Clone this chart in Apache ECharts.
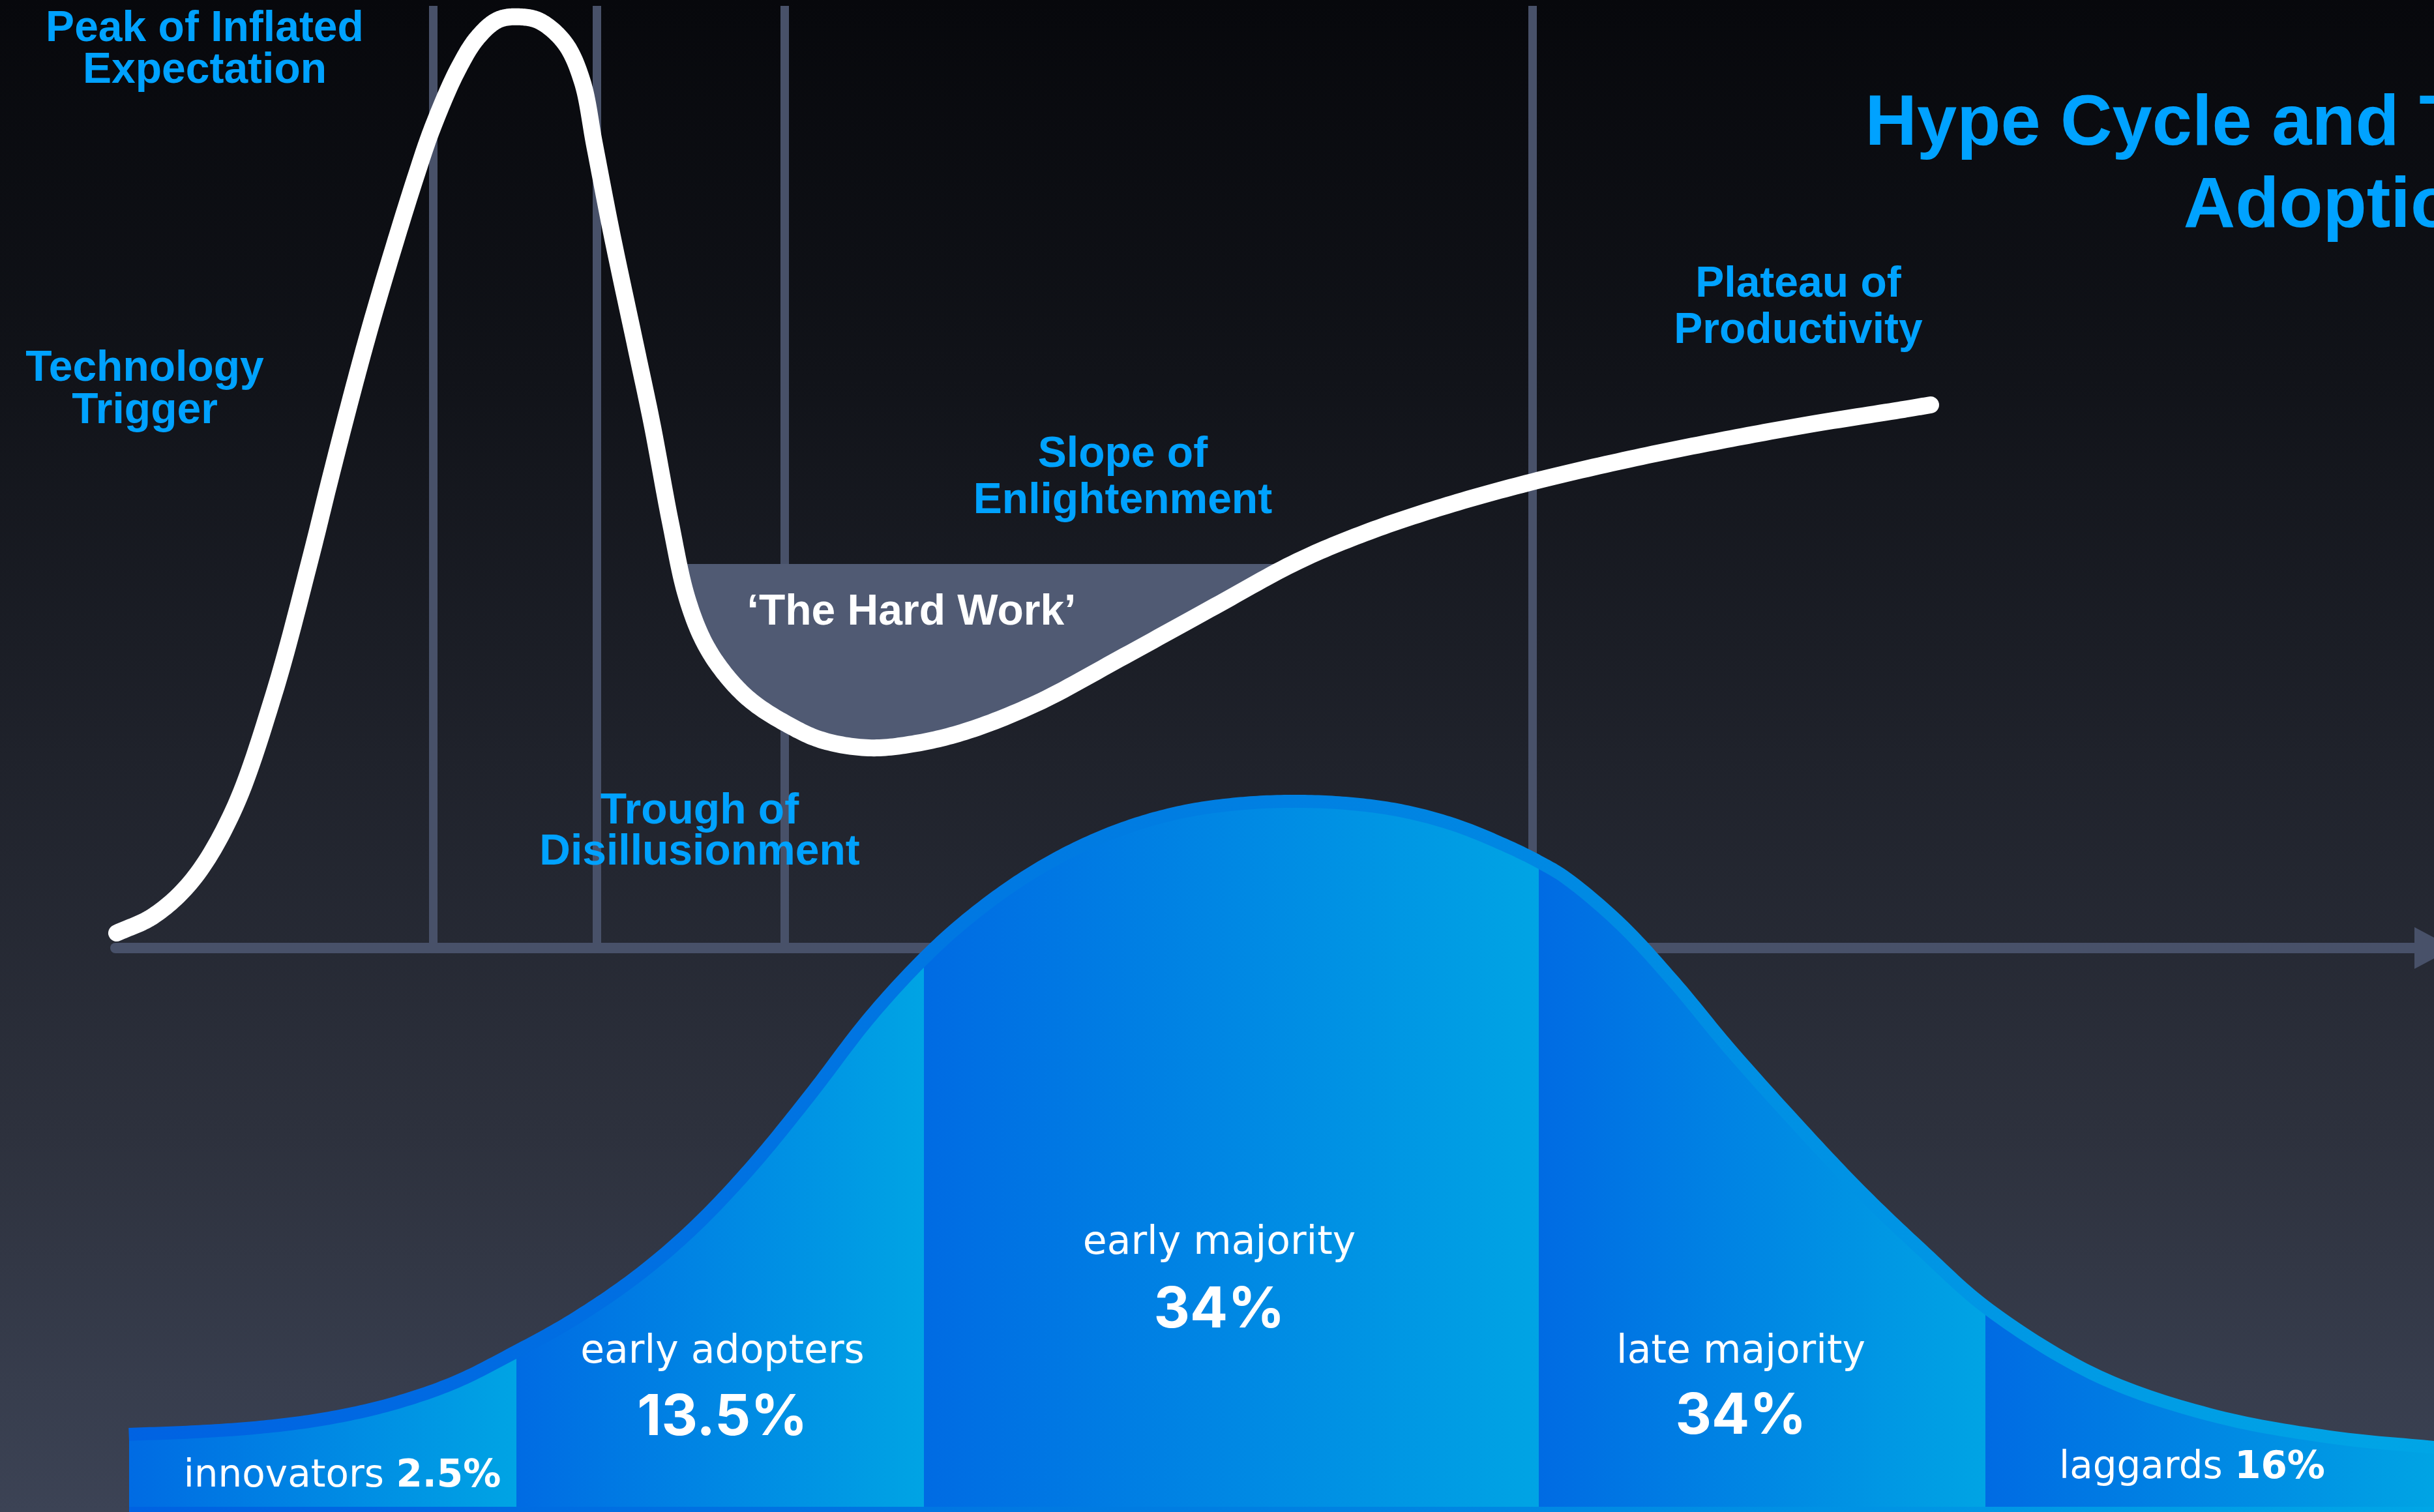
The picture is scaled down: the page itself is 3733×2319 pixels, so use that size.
<!DOCTYPE html>
<html>
<head>
    <meta charset="UTF-8">
    <title>Hype Cycle and Technology Adoption</title>
    <script src="https://cdn.jsdelivr.net/npm/echarts@6/dist/echarts.min.js"></script>
    <style>
        html, body { margin: 0; padding: 0; background: #14161c; }
        #main { width: 3733px; height: 2319px; }
    </style>
</head>
<body>
    <div id="main"></div>

    <script type="text/javascript">
        // hype curve: [time, visibility], visibility measured up from the time axis
        const hypeCurve = [
            [179, 23], [235, 49], [295, 104], [357, 209], [420, 389], [476, 597], [505, 714],
            [536, 835], [566, 946], [600, 1062], [638, 1184], [663, 1257], [702, 1347], [733, 1397],
            [765, 1424], [800, 1428], [829, 1421], [867, 1387], [893, 1329], [912, 1231], [938, 1097],
            [976, 918], [1000, 804], [1028, 654], [1053, 539], [1080, 469], [1113, 419], [1152, 379],
            [1206, 344], [1260, 319], [1332, 307], [1400, 313], [1480, 332], [1589, 375], [1725, 448],
            [1863, 524], [1990, 593], [2100, 639], [2220, 679], [2350, 715], [2500, 750], [2638, 778],
            [2775, 803], [2913, 825], [2961, 833]
        ];
        // 'The Hard Work' band: flat top and where it meets the curve
        const hardWorkLevel = 589;
        const hardWorkEdges = [1042, 1985];
        // phase separators on the time axis
        const phaseMarkers = [664, 915, 1203, 2350];
        const markerTop = 1445;

        const phaseNames = [
            'Technology\nTrigger',
            'Peak of Inflated\nExpectation',
            'Trough of\nDisillusionment',
            'Slope of\nEnlightenment',
            'Plateau of\nProductivity'
        ];

        // adoption bell curve (same axes)
        const bellCurve = [
            [198, -756], [300, -752], [400, -745], [500, -732], [600, -710], [700, -676], [792, -630],
            [882, -580], [982, -512], [1071, -436], [1161, -341], [1250, -232], [1339, -116], [1417, -30],
            [1483, 31], [1566, 93], [1649, 141], [1732, 176], [1815, 199], [1898, 211], [1980, 215],
            [2063, 212], [2146, 201], [2229, 179], [2312, 145], [2360, 121], [2395, 100], [2478, 30],
            [2561, -60], [2644, -160], [2757, -286], [2848, -382], [2940, -470], [3045, -563],
            [3214, -666], [3397, -728], [3580, -761], [3733, -776]
        ];
        const segmentBounds = [198, 792, 1417, 2360, 3045, 3733];
        const segmentNames = ['innovators', 'early adopters', 'early majority', 'late majority', 'laggards'];
        const segmentShares = ['2.5%', '13.5%', '34%', '34%', '16%'];
        const bellFloor = -857;

        // ---- layout (pixels) ----
        const phaseLabelPos = [[222, 598, 65], [314, 77, 64], [1073, 1276, 63], [1722, 733, 71], [2758, 472, 71]];
        // stacked labels: [x, name y, share y]; inline labels: [x, y]
        const segmentLabelPos = [[525, 2265], [1108, 2074, 2175], [1870, 1907, 2010], [2670, 2074, 2173], [3362, 2252]];

        const blue = '#00a2ff';
        const headFont = "'Liberation Sans', Arial, Helvetica, sans-serif";
        const bodyFont = "'DejaVu Sans', sans-serif";
        const G = echarts.graphic;

        var myChart = echarts.init(document.getElementById('main'), null, { renderer: 'canvas' });

        // centripetal Catmull-Rom through pixel points pts[i0..i1]
        function spline(pts, i0, i1, steps) {
            const n = pts.length;
            const get = k => {
                if (k < 0) return [2 * pts[0][0] - pts[1][0], 2 * pts[0][1] - pts[1][1]];
                if (k >= n) return [2 * pts[n - 1][0] - pts[n - 2][0], 2 * pts[n - 1][1] - pts[n - 2][1]];
                return pts[k];
            };
            const knot = (a, b) => Math.sqrt(Math.hypot(b[0] - a[0], b[1] - a[1])) || 1e-4;
            const out = [];
            for (let i = i0; i < i1; i++) {
                const p0 = get(i - 1), p1 = get(i), p2 = get(i + 1), p3 = get(i + 2);
                const t0 = 0, t1 = knot(p0, p1), t2 = t1 + knot(p1, p2), t3 = t2 + knot(p2, p3);
                for (let s = 0; s < steps; s++) {
                    const t = t1 + (t2 - t1) * s / steps;
                    const mix = (a, b, ta, tb) => [
                        ((tb - t) * a[0] + (t - ta) * b[0]) / (tb - ta),
                        ((tb - t) * a[1] + (t - ta) * b[1]) / (tb - ta)
                    ];
                    const A1 = mix(p0, p1, t0, t1), A2 = mix(p1, p2, t1, t2), A3 = mix(p2, p3, t2, t3);
                    const B1 = mix(A1, A2, t0, t2), B2 = mix(A2, A3, t1, t3);
                    out.push(mix(B1, B2, t1, t2));
                }
            }
            out.push(get(i1).slice());
            return out;
        }

        function text(x, y, str, size, color, extra) {
            return {
                type: 'text', x: x, y: y, z: 100, silent: true,
                style: Object.assign({
                    text: str, fill: color, fontSize: size, fontWeight: 'bold', fontFamily: headFont,
                    align: 'center', verticalAlign: 'middle', textAlign: 'center', textVerticalAlign: 'middle'
                }, extra || {})
            };
        }

        const graphics = [];
        graphics.push(text(3590, 255, 'Hype Cycle and Technology\nAdoption', 110, blue, { lineHeight: 126 }));
        phaseNames.forEach((n, i) => {
            const p = phaseLabelPos[i];
            graphics.push(text(p[0], p[1], n, 66, blue, { lineHeight: p[2] }));
        });
        graphics.push(text(1398, 940, '\u2018The Hard Work\u2019', 66, '#ffffff'));

        segmentNames.forEach((n, i) => {
            const p = segmentLabelPos[i];
            if (p.length === 2) {
                graphics.push(text(p[0], p[1], '{n|' + n + '} {p|' + segmentShares[i] + '}', 58, '#ffffff', {
                    fontWeight: 'normal', fontFamily: bodyFont,
                    rich: {
                        n: { fontSize: 58, fontFamily: bodyFont, fill: '#ffffff' },
                        p: { fontSize: 58, fontFamily: bodyFont, fontWeight: 'bold', fill: '#ffffff' }
                    }
                }));
            } else {
                graphics.push(text(p[0], p[1], n, 60, '#ffffff', { fontWeight: 'normal', fontFamily: bodyFont }));
                graphics.push(text(p[0], p[2], segmentShares[i], 86, '#ffffff', { fontFamily: "Inter, 'DejaVu Sans', sans-serif" }));
            }
        });

        function segGradient() {
            return new G.LinearGradient(0, 0, 1, 0, [
                { offset: 0, color: '#006be3' },
                { offset: 1, color: '#00a4e4' }
            ]);
        }
        function bandGradient() {
            return new G.LinearGradient(0, 0, 1, 0, [
                { offset: 0, color: '#0062e2' },
                { offset: 0.5, color: '#0080e2' },
                { offset: 1, color: '#00a6e6' }
            ]);
        }

        const STEPS = 16;

        const segmentSeries = segmentNames.map((n, k) => {
            const i0 = bellCurve.findIndex(p => p[0] === segmentBounds[k]);
            const i1 = bellCurve.findIndex(p => p[0] === segmentBounds[k + 1]);
            return {
                name: n,
                type: 'custom',
                data: bellCurve.slice(i0, i1 + 1),
                silent: true,
                z: 5,
                renderItem: function (params, api) {
                    if (params.dataIndex !== 0) return null;
                    const px = bellCurve.map(p => api.coord(p));
                    const curve = spline(px, i0, i1, STEPS);
                    const floor = api.coord([segmentBounds[0], bellFloor])[1];
                    const pts = curve.concat([[curve[curve.length - 1][0], floor], [curve[0][0], floor]]);
                    return { type: 'polygon', shape: { points: pts }, style: { fill: segGradient(), stroke: 'none' } };
                }
            };
        });

        var option = {
            backgroundColor: new G.LinearGradient(0, 0, 0, 1, [
                { offset: 0, color: '#07080c' },
                { offset: 0.25, color: '#111319' },
                { offset: 0.5, color: '#1f222b' },
                { offset: 0.75, color: '#2d313d' },
                { offset: 1, color: '#3c4355' }
            ]),
            animation: false,
            grid: { left: 177, right: 0, top: 0, bottom: 0, outerBoundsMode: 'none' },
            xAxis: {
                type: 'value',
                min: 177,
                max: 3733,
                axisLine: {
                    show: true,
                    onZero: true,
                    symbol: ['none', 'triangle'],
                    symbolSize: [64, 60],
                    lineStyle: { color: '#485169', width: 16 }
                },
                axisTick: { show: false },
                axisLabel: { show: false },
                splitLine: { show: false }
            },
            yAxis: {
                type: 'value',
                min: -865,
                max: 1454,
                axisLine: { show: false },
                axisTick: { show: false },
                axisLabel: { show: false },
                splitLine: { show: false }
            },
            graphic: graphics,
            series: [
                {
                    name: 'phases',
                    type: 'lines',
                    coordinateSystem: 'cartesian2d',
                    silent: true,
                    data: phaseMarkers.map(x => ({ coords: [[x, 8], [x, markerTop]] })),
                    lineStyle: { color: '#485169', width: 13, opacity: 1, curveness: 0 },
                    z: 1
                },
                {
                    name: 'hard work',
                    type: 'custom',
                    data: hypeCurve,
                    silent: true,
                    z: 2,
                    renderItem: function (params, api) {
                        if (params.dataIndex !== 0) return null;
                        const px = hypeCurve.map(p => api.coord(p));
                        const curve = spline(px, 0, px.length - 1, STEPS);
                        const left = api.coord([hardWorkEdges[0], hardWorkLevel]);
                        const right = api.coord([hardWorkEdges[1], hardWorkLevel]);
                        const pts = [left].concat(curve.filter(p => p[0] > left[0] && p[0] < right[0])).concat([right]);
                        return { type: 'polygon', shape: { points: pts }, style: { fill: '#505a73', stroke: 'none' } };
                    }
                },
                {
                    name: 'hype',
                    type: 'custom',
                    data: hypeCurve,
                    silent: true,
                    z: 3,
                    renderItem: function (params, api) {
                        if (params.dataIndex !== 0) return null;
                        const px = hypeCurve.map(p => api.coord(p));
                        return {
                            type: 'polyline',
                            shape: { points: spline(px, 0, px.length - 1, STEPS) },
                            style: { stroke: '#ffffff', lineWidth: 26, fill: 'none', lineCap: 'round', lineJoin: 'round' }
                        };
                    }
                },
                {
                    name: 'adoption',
                    type: 'custom',
                    data: bellCurve,
                    silent: true,
                    z: 4,
                    renderItem: function (params, api) {
                        if (params.dataIndex !== 0) return null;
                        const px = bellCurve.map(p => api.coord(p));
                        const curve = spline(px, 0, px.length - 1, STEPS);
                        const floor = api.coord([segmentBounds[0], -865])[1];
                        const area = curve.concat([[curve[curve.length - 1][0], floor], [curve[0][0], floor]]);
                        return {
                            type: 'group',
                            children: [
                                { type: 'polygon', shape: { points: area }, style: { fill: bandGradient(), stroke: 'none' } },
                                { type: 'polyline', shape: { points: curve }, style: { stroke: bandGradient(), lineWidth: 40, fill: 'none' } }
                            ]
                        };
                    }
                }
            ].concat(segmentSeries)
        };

        myChart.setOption(option);
    </script>
</body>
</html>
